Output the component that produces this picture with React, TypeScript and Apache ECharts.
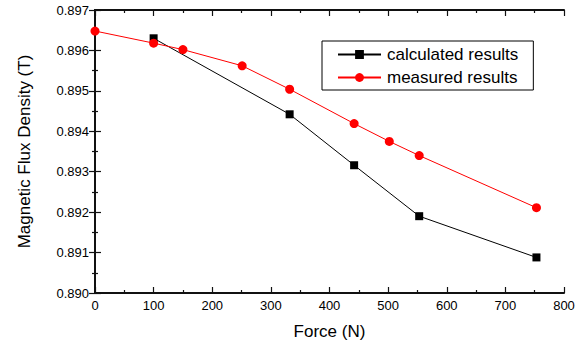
import React, { useEffect, useRef } from "react";
import * as echarts from "echarts";

const calcForce = [100, 332, 442, 553, 753];
const calcFlux = [0.8963, 0.89442, 0.89316, 0.8919, 0.89088];
const measForce = [0, 100, 150, 251, 332, 442, 502, 553, 753];
const measFlux = [0.89648, 0.89618, 0.89602, 0.89562, 0.89504, 0.89419, 0.89375, 0.8934, 0.89211];
const seriesNames = ["calculated results", "measured results"];
const xTitle = "Force (N)";
const yTitle = "Magnetic Flux Density (T)";

const FONT = "'Liberation Sans', Arial, sans-serif";
const AXIS_COLOR = "#111";

export default function App() {
  const ref = useRef<HTMLDivElement>(null);
  useEffect(() => {
    if (!ref.current) return;
    const chart = echarts.init(ref.current, undefined, { renderer: "svg" });
    const frameLine = { show: true, lineStyle: { color: AXIS_COLOR, width: 2 } };
    const tick = { show: true, inside: true, length: 6, lineStyle: { color: AXIS_COLOR, width: 1.2 } };
    const minor = { show: true, splitNumber: 2, length: 3, lineStyle: { color: AXIS_COLOR, width: 1.2 } };
    const xBase = { type: "value", min: 0, max: 800, interval: 100, splitLine: { show: false }, axisLine: frameLine, axisTick: tick, minorTick: minor };
    const yBase = { type: "value", min: 0.89, max: 0.897, interval: 0.001, splitLine: { show: false }, axisLine: frameLine, axisTick: tick, minorTick: minor };
    chart.setOption({
      animation: false,
      textStyle: { fontFamily: FONT },
      grid: { left: 95, right: 22, top: 10, bottom: 53, containLabel: false },
      legend: {
        orient: "vertical",
        left: 322,
        top: 41,
        padding: [5, 15, 4, 15],
        itemGap: 6,
        itemWidth: 43,
        itemHeight: 11,
        borderColor: "#000",
        borderWidth: 1,
        backgroundColor: "#fff",
        textStyle: { fontSize: 17, color: "#000", fontFamily: FONT, padding: [0, 0, 0, 1] },
        data: seriesNames,
      },
      xAxis: [
        {
          ...xBase,
          position: "bottom",
          name: xTitle,
          nameLocation: "middle",
          nameGap: 30,
          nameTextStyle: { fontSize: 17, color: "#000", fontFamily: FONT },
          axisLabel: { fontSize: 13, color: "#000", margin: 6, fontFamily: FONT },
        },
        { ...xBase, position: "top", axisLabel: { show: false } },
      ],
      yAxis: [
        {
          ...yBase,
          position: "left",
          name: yTitle,
          nameLocation: "middle",
          nameGap: 62,
          nameTextStyle: { fontSize: 17, color: "#000", fontFamily: FONT },
          axisLabel: { fontSize: 13, color: "#000", margin: 6, fontFamily: FONT, formatter: (v: number) => v.toFixed(3) },
        },
        { ...yBase, position: "right", axisLabel: { show: false } },
      ],
      series: [
        {
          name: seriesNames[0],
          type: "line",
          xAxisIndex: 0,
          yAxisIndex: 0,
          data: calcForce.map((f, i) => [f, calcFlux[i]]),
          symbol: "rect",
          symbolSize: 8,
          clip: false,
          lineStyle: { color: "#000", width: 1 },
          itemStyle: { color: "#000" },
          z: 3,
        },
        {
          name: seriesNames[1],
          type: "line",
          xAxisIndex: 0,
          yAxisIndex: 0,
          data: measForce.map((f, i) => [f, measFlux[i]]),
          symbol: "circle",
          symbolSize: 9,
          clip: false,
          lineStyle: { color: "#ff0000", width: 1 },
          itemStyle: { color: "#ff0000" },
          z: 4,
        },
      ],
    });
    return () => chart.dispose();
  }, []);
  return (
    <div
      ref={ref}
      style={{ position: "absolute", left: 0, top: 0, width: 586, height: 346, background: "#fff" }}
    />
  );
}
